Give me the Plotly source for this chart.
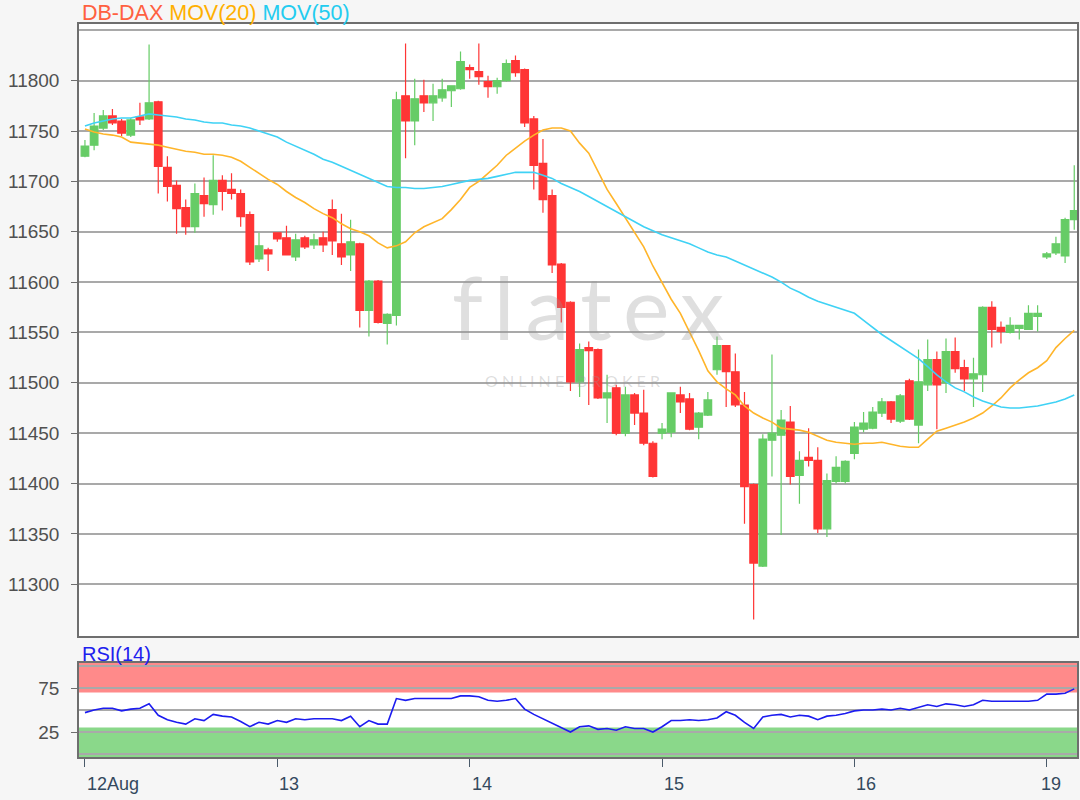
import plotly.graph_objects as go

# ---------------- data (hourly candles) ----------------
candle_index = list(range(109))

open_ = [11725, 11736, 11753, 11765, 11760, 11746, 11764, 11762, 11779, 11714,
         11696, 11674, 11655, 11686, 11677, 11701, 11692, 11688, 11667, 11623,
         11632, 11649, 11644, 11625, 11644, 11637, 11644, 11672, 11638, 11627,
         11638, 11572, 11601, 11559, 11567, 11785, 11760, 11785, 11778, 11783,
         11790, 11792, 11813, 11809, 11799, 11794, 11800, 11820, 11811, 11762,
         11718, 11686, 11618, 11580, 11501, 11535, 11533, 11485, 11495, 11450,
         11488, 11470, 11440, 11450, 11451, 11488, 11484, 11456, 11468, 11513,
         11537, 11511, 11478, 11399, 11318, 11443, 11448, 11461, 11408, 11426,
         11423, 11355, 11402, 11402, 11430, 11454, 11455, 11470, 11481, 11462,
         11502, 11458, 11498, 11523, 11500, 11531, 11515, 11504, 11508, 11575,
         11555, 11550, 11554, 11553, 11566, 11625, 11629, 11626, 11662]
high = [11741, 11768, 11771, 11772, 11762, 11763, 11778, 11836, 11780, 11725,
        11701, 11682, 11698, 11704, 11726, 11706, 11708, 11692, 11670, 11649,
        11634, 11649, 11656, 11648, 11646, 11648, 11650, 11682, 11668, 11662,
        11639, 11602, 11602, 11569, 11789, 11837, 11802, 11801, 11797, 11802,
        11795, 11829, 11816, 11837, 11805, 11803, 11821, 11825, 11812, 11765,
        11742, 11692, 11619, 11581, 11539, 11541, 11534, 11508, 11498, 11496,
        11490, 11493, 11442, 11460, 11490, 11496, 11490, 11471, 11491, 11546,
        11537, 11529, 11491, 11400, 11449, 11528, 11473, 11477, 11432, 11455,
        11436, 11410, 11427, 11423, 11461, 11471, 11476, 11485, 11482, 11489,
        11504, 11533, 11543, 11531, 11544, 11545, 11523, 11525, 11576, 11581,
        11561, 11565, 11557, 11577, 11577, 11630, 11645, 11664, 11716]
low = [11724, 11731, 11751, 11756, 11745, 11744, 11756, 11761, 11688, 11680,
       11648, 11647, 11649, 11665, 11667, 11671, 11682, 11655, 11617, 11620,
       11611, 11640, 11627, 11621, 11633, 11633, 11630, 11627, 11617, 11611,
       11555, 11546, 11559, 11538, 11557, 11723, 11736, 11769, 11760, 11779,
       11774, 11791, 11802, 11796, 11783, 11787, 11799, 11804, 11754, 11692,
       11669, 11609, 11560, 11492, 11486, 11478, 11484, 11460, 11448, 11447,
       11458, 11438, 11406, 11444, 11446, 11470, 11453, 11444, 11467, 11508,
       11476, 11476, 11360, 11265, 11317, 11407, 11349, 11399, 11380, 11417,
       11351, 11347, 11400, 11400, 11424, 11451, 11454, 11466, 11460, 11460,
       11463, 11440, 11492, 11454, 11490, 11510, 11492, 11476, 11491, 11535,
       11539, 11549, 11543, 11553, 11551, 11623, 11627, 11619, 11652]
close = [11735, 11755, 11765, 11758, 11748, 11761, 11761, 11778, 11715, 11695,
         11673, 11655, 11688, 11678, 11701, 11690, 11688, 11665, 11620, 11636,
         11628, 11643, 11627, 11642, 11635, 11642, 11637, 11641, 11625, 11640,
         11572, 11601, 11560, 11568, 11781, 11760, 11782, 11778, 11785, 11791,
         11795, 11819, 11811, 11804, 11794, 11800, 11817, 11808, 11758, 11716,
         11682, 11617, 11575, 11501, 11533, 11532, 11485, 11490, 11450, 11488,
         11470, 11440, 11407, 11454, 11490, 11481, 11454, 11470, 11483, 11537,
         11511, 11478, 11397, 11321, 11444, 11450, 11463, 11407, 11423, 11423,
         11355, 11403, 11416, 11422, 11456, 11460, 11471, 11481, 11464, 11487,
         11464, 11501, 11523, 11498, 11531, 11514, 11504, 11509, 11575, 11553,
         11551, 11557, 11557, 11569, 11569, 11628, 11638, 11662, 11671]

ma20 = [11752, 11749, 11747, 11746, 11744, 11739, 11738, 11737, 11736, 11734,
        11732, 11730, 11729, 11727, 11727, 11726, 11724, 11720, 11714, 11708,
        11702, 11697, 11690, 11684, 11679, 11673, 11668, 11664, 11658, 11653,
        11650, 11646, 11639, 11634, 11636, 11640, 11649, 11655, 11659, 11663,
        11672, 11682, 11694, 11700, 11708, 11716, 11726, 11733, 11740, 11746,
        11751, 11753, 11753, 11750, 11738, 11728, 11710, 11692, 11678, 11664,
        11650, 11635, 11616, 11599, 11583, 11569, 11551, 11532, 11512, 11501,
        11494, 11488, 11477, 11470, 11465, 11461, 11455, 11454, 11453, 11451,
        11447, 11443, 11441, 11440, 11439, 11440, 11440, 11441, 11439, 11437,
        11436, 11436, 11444, 11452, 11455, 11458, 11461, 11465, 11470, 11477,
        11485, 11495, 11503, 11510, 11515, 11522, 11535, 11544, 11552]
ma50 = [11755, 11758, 11760, 11762, 11763, 11763, 11765, 11767, 11766, 11765,
        11764, 11762, 11761, 11759, 11758, 11758, 11756, 11755, 11753, 11750,
        11747, 11744, 11739, 11735, 11731, 11727, 11722, 11719, 11715, 11711,
        11707, 11703, 11699, 11695, 11694, 11694, 11693, 11693, 11694, 11695,
        11697, 11699, 11701, 11702, 11703, 11705, 11707, 11709, 11709, 11709,
        11706, 11703, 11698, 11694, 11690, 11685, 11680, 11675, 11670, 11665,
        11660, 11655, 11651, 11647, 11644, 11641, 11638, 11634, 11630, 11627,
        11625, 11621, 11617, 11613, 11609, 11605, 11600, 11594, 11590, 11585,
        11581, 11578, 11575, 11572, 11569, 11562, 11555, 11548, 11542, 11536,
        11530, 11524, 11516, 11508, 11501, 11495, 11491, 11486, 11482, 11479,
        11476, 11475, 11475, 11476, 11477, 11479, 11481, 11484, 11488]
rsi = [47, 50, 52, 52, 49, 51, 52, 57, 44, 39,
       36, 34, 40, 38, 45, 43, 42, 37, 31, 36,
       34, 38, 36, 40, 39, 40, 40, 40, 38, 43,
       31, 38, 34, 34, 63, 61, 63, 63, 63, 63,
       63, 66, 66, 65, 61, 60, 61, 63, 51, 45,
       40, 35, 30, 25, 31, 32, 28, 29, 27, 31,
       29, 29, 25, 31, 38, 38, 39, 38, 39, 41,
       48, 44, 36, 29, 42, 44, 45, 42, 44, 43,
       39, 43, 44, 46, 49, 50, 50, 51, 50, 52,
       50, 53, 56, 54, 57, 56, 54, 56, 61, 60,
       60, 60, 60, 60, 61, 68, 68, 69, 74]

day_tick_index = [0, 21, 42, 63, 84, 105]
day_labels = ["12Aug", "13", "14", "15", "16", "19"]
price_ticks = [11300, 11350, 11400, 11450, 11500, 11550, 11600, 11650, 11700, 11750, 11800]
price_extra_grid = [11850]
rsi_ticks = [25, 75]
rsi_extra_grid = [0, 50, 100]
rsi_overbought = [70, 103.4]
rsi_oversold = [-3.4, 30]

# ---------------- styles ----------------
GREEN = "#66cc66"
RED = "#ff3535"
GRID = "#a9a9a9"
FRAME = "#6e6e6e"
BG = "#f6f6f6"
FONT = "Liberation Sans, Arial, sans-serif"

fig = go.Figure()

fig.add_trace(go.Candlestick(
    x=candle_index, open=open_, high=high, low=low, close=close,
    increasing=dict(line=dict(color=GREEN, width=1.2), fillcolor=GREEN),
    decreasing=dict(line=dict(color=RED, width=1.2), fillcolor=RED),
    whiskerwidth=0, showlegend=False, xaxis="x", yaxis="y", hoverinfo="skip"))
fig.add_trace(go.Scatter(x=candle_index, y=ma20, mode="lines",
                         line=dict(color="#ffb52a", width=1.6), showlegend=False,
                         xaxis="x", yaxis="y", hoverinfo="skip"))
fig.add_trace(go.Scatter(x=candle_index, y=ma50, mode="lines",
                         line=dict(color="#3fd2f5", width=1.6), showlegend=False,
                         xaxis="x", yaxis="y", hoverinfo="skip"))
fig.add_trace(go.Scatter(x=candle_index, y=rsi, mode="lines",
                         line=dict(color="#1c1cf0", width=1.6), showlegend=False,
                         xaxis="x2", yaxis="y2", hoverinfo="skip"))

xdom = [79 / 1080, 1077 / 1080]
xr = [-0.65, 108.3]

fig.update_layout(
    width=1080, height=800,
    margin=dict(l=0, r=0, t=0, b=0, autoexpand=False),
    paper_bgcolor=BG, plot_bgcolor="#ffffff",
    boxgap=0.17, boxgroupgap=0,
    font=dict(family=FONT, color="#505050"),
    showlegend=False,
    xaxis=dict(domain=xdom, range=xr, anchor="y", showgrid=False, zeroline=False,
               showticklabels=False, ticks="", showline=True, mirror=True,
               linecolor=FRAME, linewidth=1.5, rangeslider=dict(visible=False),
               fixedrange=True),
    yaxis=dict(domain=[1 - 636 / 800, 1 - 24 / 800], range=[11248.6, 11856.3],
               anchor="x", tickvals=price_ticks, tickformat="d", showgrid=True,
               gridcolor=GRID, gridwidth=1.5, zeroline=False, ticks="outside",
               ticklen=6, tickcolor=FRAME, tickwidth=1.2, ticklabelstandoff=8,
               tickfont=dict(size=19, color="#505050", family=FONT),
               showline=True, mirror=True, linecolor=FRAME, linewidth=1.5,
               minor=dict(tickvals=price_extra_grid, showgrid=True, gridcolor=GRID,
                          gridwidth=1.5, ticks="")),
    xaxis2=dict(domain=xdom, range=xr, anchor="y2", showgrid=False, zeroline=False,
                tickvals=day_tick_index, showticklabels=False, ticks="outside",
                ticklen=8, tickcolor="#4a5a6a", tickwidth=1.2, showline=True,
                mirror=True, linecolor=FRAME, linewidth=1.5),
    yaxis2=dict(domain=[1 - 757 / 800, 1 - 663 / 800], range=[-3.4, 103.4],
                anchor="x2", tickvals=rsi_ticks, tickformat="d", showgrid=True,
                gridcolor=GRID, gridwidth=1.5, zeroline=False, ticks="outside",
                ticklen=6, tickcolor=FRAME, tickwidth=1.2, ticklabelstandoff=8,
                tickfont=dict(size=19, color="#505050", family=FONT),
                showline=True, mirror=True, linecolor=FRAME, linewidth=1.5,
                minor=dict(tickvals=rsi_extra_grid, showgrid=True, gridcolor=GRID,
                           gridwidth=1.5, ticks="")),
)

# RSI bands
fig.add_shape(type="rect", xref="x2 domain", yref="y2", x0=0, x1=1,
              y0=rsi_overbought[0], y1=rsi_overbought[1],
              fillcolor="#ff8a8a", line=dict(width=0), layer="below")
fig.add_shape(type="rect", xref="x2 domain", yref="y2", x0=0, x1=1,
              y0=rsi_oversold[0], y1=rsi_oversold[1],
              fillcolor="#8ad88a", line=dict(width=0), layer="below")

# titles
fig.add_annotation(xref="paper", yref="paper", x=80 / 1080, y=1 - 13.5 / 800,
                   xanchor="left", yanchor="middle", showarrow=False,
                   text="<span style='color:#ff6040'>DB-DAX</span> "
                        "<span style='color:#ffb000'>MOV(20)</span> "
                        "<span style='color:#22ccf0'>MOV(50)</span>",
                   font=dict(size=21.5, family=FONT))
fig.add_annotation(xref="paper", yref="paper", x=80 / 1080, y=1 - 654 / 800,
                   xanchor="left", yanchor="middle", showarrow=False,
                   text="RSI(14)", font=dict(size=20, family=FONT, color="#2020ee"))

# watermark
fig.add_annotation(xref="paper", yref="paper", x=588 / 1080, y=1 - 306 / 800,
                   xanchor="center", yanchor="middle", showarrow=False,
                   text="f\u2009l\u2009a\u2009t\u2009e\u2009x",
                   font=dict(size=88, family="Lato, sans-serif",
                             color="rgba(150,150,150,0.3)"))
fig.add_annotation(xref="paper", yref="paper", x=572 / 1080, y=1 - 380 / 800,
                   xanchor="center", yanchor="middle", showarrow=False,
                   text="O N L I N E &nbsp; B R O K E R",
                   font=dict(size=16, family="Lato, sans-serif",
                             color="rgba(150,150,150,0.32)"))

# day labels (left aligned at the tick, last one centred)
for k, (pos, lab) in enumerate(zip(day_tick_index, day_labels)):
    last = k == len(day_tick_index) - 1
    fig.add_annotation(xref="x2", yref="paper", x=pos, y=1 - 783.5 / 800,
                       xanchor="center" if last else "left", yanchor="middle",
                       xshift=4 if last else 0, showarrow=False, text=lab,
                       font=dict(size=18, family=FONT, color="#34495e"))

fig.write_html(
    "out.html",
    config={"displayModeBar": False},
    post_script="document.body.style.margin='0px';"
                "document.body.style.background='" + BG + "';"
                "document.body.style.overflow='hidden';",
)
